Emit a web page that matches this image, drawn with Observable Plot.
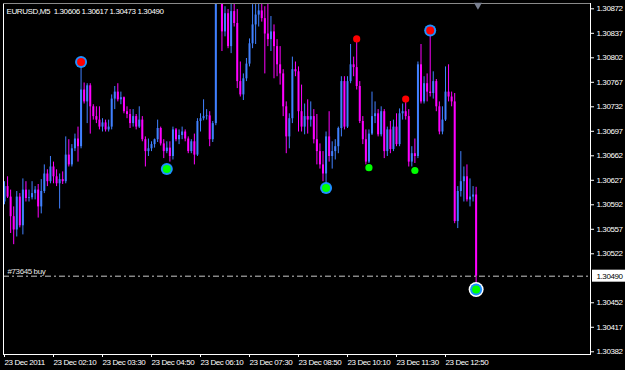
<!DOCTYPE html>
<html><head><meta charset="utf-8">
<script src="https://cdn.jsdelivr.net/npm/d3@7"></script>
<script src="https://cdn.jsdelivr.net/npm/@observablehq/plot@0.6"></script>
<style>html,body{margin:0;padding:0;background:#000;overflow:hidden;}</style>
</head><body><div id="chart"></div>
<script>
// ---- data ----
const symbol = "EURUSD,M5";
const startTime = "2011-12-23T00:50:00Z";
const barMinutes = 5;
const firstOpen = 1.30596;
const closes = [
 1.30618,1.30603,1.30575,1.30556,1.30603,1.30562,1.30613,1.30601,1.30602,1.30608,
 1.30613,1.30589,1.30611,1.30636,1.30625,1.30646,1.30632,1.30622,1.30628,1.30625,
 1.30663,1.30649,1.30672,1.30686,1.30675,1.30756,1.30739,1.30762,1.30732,1.30718,
 1.30713,1.30703,1.30709,1.30699,1.30703,1.30743,1.30753,1.30742,1.30745,1.30725,
 1.30721,1.30708,1.30718,1.30703,1.30713,1.30685,1.30668,1.30672,1.30678,1.30685,
 1.30701,1.30679,1.30668,1.30673,1.30661,1.30699,1.30685,1.30691,1.30696,1.30686,
 1.30668,1.30682,1.30663,1.30711,1.30715,1.30718,1.30719,1.30685,1.30708,1.30885,
 1.30899,1.30839,1.30865,1.30818,1.30868,1.30851,1.30768,1.30749,1.30772,1.30793,
 1.30822,1.30849,1.30863,1.30869,1.30858,1.30836,1.30828,1.30839,1.30818,1.30792,
 1.30779,1.30732,1.30689,1.30715,1.30785,1.30782,1.30725,1.30703,1.30718,1.30713,
 1.30718,1.30685,1.30668,1.30649,1.30636,1.30689,1.30661,1.30668,1.30675,1.30701,
 1.30768,1.30703,1.30768,1.30792,1.30788,1.30761,1.30711,1.30685,1.30653,1.30693,
 1.30718,1.30722,1.30692,1.30725,1.30668,1.30699,1.30671,1.30703,1.30678,1.30722,
 1.30725,1.30718,1.30653,1.30665,1.30661,1.30792,1.30739,1.30765,1.30753,1.30751,
 1.30768,1.30732,1.30696,1.30713,1.30753,1.30746,1.30739,1.30568,1.30611,1.30625,
 1.30632,1.30599,1.30603,1.30606,1.30490];
const highs = [
 1.30625,1.30632,1.30613,1.30589,1.30611,1.30608,1.30629,1.30625,1.30613,1.30625,
 1.30618,1.30621,1.30628,1.30649,1.30642,1.30661,1.30653,1.30642,1.30636,1.30639,
 1.30689,1.30685,1.30678,1.30693,1.30703,1.30793,1.30766,1.30765,1.30765,1.30735,
 1.30732,1.30732,1.30715,1.30713,1.30713,1.30749,1.30761,1.30765,1.30753,1.30746,
 1.30732,1.30728,1.30728,1.30721,1.30732,1.30718,1.30689,1.30686,1.30682,1.30686,
 1.30713,1.30703,1.30685,1.30682,1.30682,1.30703,1.30701,1.30699,1.30703,1.30699,
 1.30689,1.30685,1.30693,1.30715,1.30722,1.30742,1.30728,1.30725,1.30711,1.30903,
 1.30918,1.30911,1.30875,1.30871,1.30882,1.30879,1.30871,1.30796,1.30779,1.30801,
 1.30829,1.30878,1.30878,1.30879,1.30889,1.30875,1.30886,1.30861,1.30849,1.30828,
 1.30818,1.30785,1.30739,1.30722,1.30803,1.30796,1.30789,1.30763,1.30736,1.30742,
 1.30739,1.30728,1.30721,1.30679,1.30668,1.30696,1.30725,1.30682,1.30685,1.30703,
 1.30775,1.30775,1.30775,1.30821,1.30803,1.30828,1.30768,1.30718,1.30699,1.30699,
 1.30753,1.30739,1.30728,1.30732,1.30728,1.30703,1.30711,1.30713,1.30722,1.30729,
 1.30736,1.30739,1.30728,1.30675,1.30686,1.30796,1.30821,1.30775,1.30779,1.30835,
 1.30782,1.30771,1.30739,1.30732,1.30789,1.30792,1.30753,1.30751,1.30618,1.30668,
 1.30646,1.30649,1.30629,1.30618,1.30617];
const lows = [
 1.30592,1.30601,1.30551,1.30535,1.30546,1.30559,1.30549,1.30596,1.30596,1.30599,
 1.30599,1.30573,1.30579,1.30608,1.30618,1.30622,1.30622,1.30618,1.30586,1.30621,
 1.30622,1.30646,1.30646,1.30668,1.30653,1.30672,1.30736,1.30708,1.30693,1.30713,
 1.30708,1.30699,1.30696,1.30696,1.30696,1.30699,1.30728,1.30739,1.30735,1.30722,
 1.30715,1.30701,1.30703,1.30699,1.30701,1.30682,1.30646,1.30661,1.30668,1.30673,
 1.30681,1.30676,1.30658,1.30665,1.30653,1.30656,1.30682,1.30678,1.30685,1.30682,
 1.30665,1.30665,1.30649,1.30661,1.30696,1.30712,1.30713,1.30675,1.30681,1.30705,
 1.30881,1.30811,1.30832,1.30815,1.30808,1.30846,1.30758,1.30746,1.30741,1.30768,
 1.30789,1.30815,1.30821,1.30846,1.30853,1.30779,1.30818,1.30811,1.30772,1.30775,
 1.30763,1.30718,1.30665,1.30672,1.30708,1.30775,1.30696,1.30696,1.30692,1.30693,
 1.30703,1.30679,1.30649,1.30643,1.30625,1.30622,1.30653,1.30643,1.30656,1.30665,
 1.30689,1.30699,1.30701,1.30765,1.30775,1.30756,1.30708,1.30678,1.30649,1.30651,
 1.30691,1.30708,1.30689,1.30689,1.30658,1.30661,1.30665,1.30668,1.30675,1.30675,
 1.30713,1.30713,1.30646,1.30646,1.30651,1.30658,1.30736,1.30736,1.30739,1.30746,
 1.30743,1.30725,1.30692,1.30692,1.30711,1.30739,1.30732,1.30565,1.30558,1.30603,
 1.30596,1.30596,1.30589,1.30596,1.30473];

// signal markers: bar index + price
const bigHighIdx = [25, 139];
const bigHighPrice = [1.30796, 1.30841];
const bigLowIdx = [53, 105];
const bigLowPrice = [1.30643, 1.30616];
const redDotIdx = [115, 131];
const redDotPrice = [1.30829, 1.30743];
const greenDotIdx = [119, 134];
const greenDotPrice = [1.30645, 1.30641];
const entryIdx = [154];
const entryPrice = [1.30471];

const orderLabel = "#73645 buy";
const orderPrice = 1.30490;
const shiftMarkerTime = "2011-12-23T13:43:00Z";

const xTickTimes = ["2011-12-23T00:50:00Z","2011-12-23T02:10:00Z","2011-12-23T03:30:00Z",
  "2011-12-23T04:50:00Z","2011-12-23T06:10:00Z","2011-12-23T07:30:00Z","2011-12-23T08:50:00Z",
  "2011-12-23T10:10:00Z","2011-12-23T11:30:00Z","2011-12-23T12:50:00Z"];
const xTickLabels = ["23 Dec 2011","23 Dec 02:10","23 Dec 03:30","23 Dec 04:50","23 Dec 06:10",
  "23 Dec 07:30","23 Dec 08:50","23 Dec 10:10","23 Dec 11:30","23 Dec 12:50"];
const yTicks = [1.30872,1.30837,1.30802,1.30767,1.30732,1.30697,1.30662,1.30627,1.30592,
  1.30557,1.30522,1.30452,1.30417,1.30382];

// ---- build ----
const upColor = "#4080ff", downColor = "#ff00ff";
const t0 = Date.parse(startTime);
const timeOf = i => new Date(t0 + i * barMinutes * 60000);
const bars = closes.map((c, i) => {
  const o = i ? closes[i - 1] : firstOpen;
  return {t: timeOf(i), o, h: highs[i], l: lows[i], c, color: c >= o ? upColor : downColor};
});
const pts = (idx, prices) => idx.map((k, j) => ({t: timeOf(k), p: prices[j]}));
const last = bars[bars.length - 1];
const header = `${symbol}\u00a0\u00a0${last.o.toFixed(5)} ${last.h.toFixed(5)} ${last.l.toFixed(5)} ${last.c.toFixed(5)}`;
const labelByTime = new Map(xTickTimes.map((s, i) => [Date.parse(s), xTickLabels[i]]));
const xDomain = [new Date(t0 - 98000), new Date(t0 + 57404000)];
const yDomain = [1.303781, 1.308796];

const chart = Plot.plot({
  width: 625, height: 370,
  marginLeft: 3, marginRight: 35, marginTop: 3, marginBottom: 16,
  style: {background: "#000", color: "#fff", fontFamily: "'Liberation Sans', Arial, sans-serif", fontSize: "8px", letterSpacing: "-0.4px"},
  x: {type: "utc", domain: xDomain},
  y: {domain: yDomain},
  color: {type: "identity"},
  marks: [
    Plot.ruleX(bars, {x: "t", y1: "l", y2: "h", stroke: "color", strokeWidth: 1, clip: true}),
    Plot.ruleX(bars, {x: "t", y1: "o", y2: "c", stroke: "color", strokeWidth: 2, clip: true}),
    Plot.ruleY([orderPrice], {stroke: "#c8c8c8", strokeDasharray: "6,3,2,3"}),
    Plot.text([{p: orderPrice, s: orderLabel}], {y: "p", text: "s", frameAnchor: "left", dx: 4, dy: -5, textAnchor: "start", fill: "#e6e6e6"}),
    Plot.frame({stroke: "#fff"}),
    Plot.ruleY([yDomain[1]], {stroke: "#8a8a8a"}),
    Plot.axisY(yTicks, {anchor: "right", tickSize: 3, tickPadding: 3, tickFormat: d => d.toFixed(5), stroke: "#fff", fill: "#fff", label: null}),
    Plot.axisX(xTickTimes.map(s => new Date(s)), {anchor: "bottom", tickSize: 3, tickPadding: 2, tickFormat: d => labelByTime.get(+d), textAnchor: "start", stroke: "#fff", fill: "#fff", label: null}),
    Plot.rect([{p: last.c}], {x1: () => xDomain[1], x2: () => xDomain[1], y1: "p", y2: "p", insetLeft: 2, insetRight: -35, insetTop: -6, insetBottom: -6, fill: "#fff"}),
    Plot.text([{p: last.c}], {y: "p", text: d => d.p.toFixed(5), frameAnchor: "right", dx: 6, textAnchor: "start", fill: "#000"}),
    Plot.text([header], {frameAnchor: "top-left", dx: 3, dy: 5, textAnchor: "start", fill: "#fff"}),
    Plot.dot([{t: new Date(shiftMarkerTime)}], {x: "t", frameAnchor: "top", symbol: "triangle", rotate: 180, r: 3, fill: "#7a8090", dy: 1.5}),
    // markers
    Plot.dot(pts(bigHighIdx, bigHighPrice), {x: "t", y: "p", r: 6, fill: "#1e90ff"}),
    Plot.dot(pts(bigHighIdx, bigHighPrice), {x: "t", y: "p", r: 4, fill: "#ff0000"}),
    Plot.dot(pts(bigLowIdx, bigLowPrice), {x: "t", y: "p", r: 6, fill: "#1e90ff"}),
    Plot.dot(pts(bigLowIdx, bigLowPrice), {x: "t", y: "p", r: 4, fill: "#00ff00"}),
    Plot.dot(pts(redDotIdx, redDotPrice), {x: "t", y: "p", r: 3.6, fill: "#ff0000"}),
    Plot.dot(pts(greenDotIdx, greenDotPrice), {x: "t", y: "p", r: 3.6, fill: "#00ff00"}),
    Plot.dot(pts(entryIdx, entryPrice), {x: "t", y: "p", r: 7.5, fill: "#ffffff"}),
    Plot.dot(pts(entryIdx, entryPrice), {x: "t", y: "p", r: 6, fill: "#1e90ff"}),
    Plot.dot(pts(entryIdx, entryPrice), {x: "t", y: "p", r: 4, fill: "#00ff00"})
  ]
});
document.getElementById("chart").appendChild(chart);
</script>
</body></html>
